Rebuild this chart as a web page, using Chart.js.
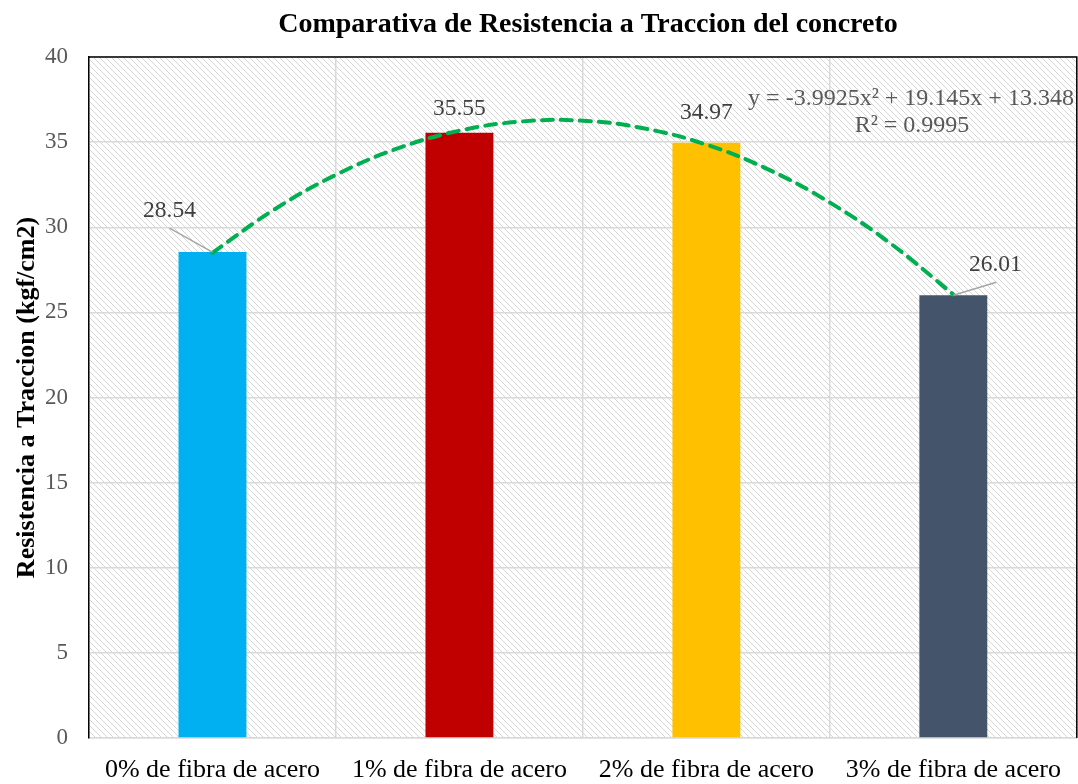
<!DOCTYPE html>
<html lang="es">
<head>
    <meta charset="UTF-8">
    <title>Comparativa de Resistencia a Traccion del concreto</title>
    <script src="https://cdn.jsdelivr.net/npm/chart.js"></script>
    <style>
        body {
            margin: 0;
            padding: 0;
            background: #ffffff;
        }
        #chartBox {
            width: 1078px;
            height: 784px;
        }
    </style>
</head>
<body>
    <div id="chartBox">
        <canvas id="resistChart" width="1078" height="784"></canvas>
    </div>

    <script>
        // Datos del ensayo
        const categorias = [
            "0% de fibra de acero",
            "1% de fibra de acero",
            "2% de fibra de acero",
            "3% de fibra de acero"
        ];
        const resistencia = [28.54, 35.55, 34.97, 26.01];
        const coloresBarra = ["#00B0F0", "#C00000", "#FFC000", "#44546A"];

        // Linea de tendencia polinomica (puntos sobre la curva)
        const tendenciaX = [1, 1.25, 1.5, 1.75, 2, 2.25, 2.5, 2.75, 3, 3.25, 3.5, 3.75, 4];
        const tendenciaY = [28.50, 31.04, 33.08, 34.63, 35.67, 36.21, 36.26, 35.80, 34.85, 33.40, 31.45, 29.00, 26.05];
        const ecuacion = ["y = -3.9925x\u00B2 + 19.145x + 13.348", "R\u00B2 = 0.9995"];

        const ticksY = [0, 5, 10, 15, 20, 25, 30, 35, 40];

        const serif = "'Liberation Serif', 'Times New Roman', serif";

        // fondo rayado del area de trazado
        const makeHatch = (ctx) => {
            const n = 6;
            const c = document.createElement("canvas");
            c.width = n; c.height = n;
            const g = c.getContext("2d");
            g.fillStyle = "#ffffff";
            g.fillRect(0, 0, n, n);
            g.strokeStyle = "#d6d6d6";
            g.lineWidth = 1;
            g.beginPath();
            g.moveTo(-1, -1); g.lineTo(n + 1, n + 1);
            g.moveTo(-1, n - 1); g.lineTo(1, n + 1);
            g.moveTo(n - 1, -1); g.lineTo(n + 1, 1);
            g.stroke();
            return ctx.createPattern(c, "repeat");
        };

        const fondoPlugin = {
            id: "fondo",
            beforeDraw(chart) {
                const { ctx, chartArea: a } = chart;
                ctx.save();
                ctx.fillStyle = "#ffffff";
                ctx.fillRect(0, 0, chart.width, chart.height);
                ctx.fillStyle = makeHatch(ctx);
                ctx.fillRect(a.left, a.top, a.right - a.left, a.bottom - a.top);
                ctx.restore();
            },
            afterDraw(chart) {
                const { ctx, chartArea: a } = chart;
                ctx.save();
                // marco superior y derecho
                ctx.strokeStyle = "#000000";
                ctx.lineWidth = 1.5;
                ctx.beginPath();
                ctx.moveTo(a.left, a.top);
                ctx.lineTo(a.right, a.top);
                ctx.lineTo(a.right, a.bottom);
                ctx.stroke();
                // titulo
                ctx.fillStyle = "#000000";
                ctx.font = "bold 28px " + serif;
                ctx.textAlign = "center";
                ctx.textBaseline = "middle";
                ctx.fillText("Comparativa de Resistencia a Traccion del concreto", 588, 25);
                ctx.restore();
            }
        };

        // posiciones de las etiquetas de valor (desplazamiento respecto a la barra)
        const etiquetaDx = [-43, 0, 0, 42];
        const etiquetaDy = [-41, -24, -30, -30];
        const conGuia = [true, false, false, true];

        const etiquetasPlugin = {
            id: "etiquetas",
            afterDatasetsDraw(chart) {
                const { ctx } = chart;
                const meta = chart.getDatasetMeta(1);
                ctx.save();
                ctx.font = "23.5px " + serif;
                ctx.textAlign = "center";
                ctx.textBaseline = "middle";
                meta.data.forEach((bar, i) => {
                    const tx = bar.x + etiquetaDx[i];
                    const ty = bar.y + etiquetaDy[i];
                    if (conGuia[i]) {
                        ctx.strokeStyle = "#a6a6a6";
                        ctx.lineWidth = 1.5;
                        ctx.beginPath();
                        ctx.moveTo(tx + (i === 0 ? 0 : 1), ty + 17);
                        ctx.lineTo(bar.x, bar.y);
                        ctx.stroke();
                    }
                    ctx.fillStyle = "#404040";
                    ctx.fillText(resistencia[i].toFixed(2), tx, ty);
                });
                // ecuacion de la tendencia
                ctx.font = "24px " + serif;
                ctx.fillStyle = "#595959";
                ctx.fillText(ecuacion[0], 911, 99);
                ctx.fillText(ecuacion[1], 912, 126);
                ctx.restore();
            }
        };

        new Chart(document.getElementById("resistChart"), {
            type: "bar",
            data: {
                labels: categorias,
                datasets: [
                    {
                        type: "line",
                        label: "Tendencia",
                        xAxisID: "xTend",
                        data: tendenciaX.map((x, i) => ({ x: x, y: tendenciaY[i] })),
                        borderColor: "#00B050",
                        borderWidth: 4,
                        borderDash: [11, 8],
                        borderCapStyle: "round",
                        pointRadius: 0,
                        tension: 0.4,
                        fill: false,
                        order: 0
                    },
                    {
                        label: "Resistencia a Traccion",
                        data: resistencia,
                        backgroundColor: coloresBarra,
                        borderWidth: 0,
                        grouped: false,
                        categoryPercentage: 1,
                        barPercentage: 0.275,
                        order: 1
                    }
                ]
            },
            options: {
                responsive: false,
                animation: false,
                layout: {
                    padding: { top: 57, right: 1, left: 0, bottom: 0 }
                },
                plugins: {
                    legend: { display: false },
                    tooltip: { enabled: false },
                    title: { display: false }
                },
                scales: {
                    x: {
                        offset: true,
                        grid: {
                            color: "#d9d9d9",
                            lineWidth: 1.5,
                            drawTicks: false
                        },
                        border: { color: "#d9d9d9", width: 1.5 },
                        ticks: {
                            color: "#000000",
                            font: { family: serif, size: 26 },
                            padding: 17,
                            maxRotation: 0,
                            autoSkip: false
                        },
                        afterFit(scale) { scale.height = 46; }
                    },
                    xTend: {
                        type: "linear",
                        display: false,
                        offset: false,
                        min: 0.5,
                        max: 4.5
                    },
                    y: {
                        min: 0,
                        max: 40,
                        afterBuildTicks(scale) {
                            scale.ticks = ticksY.map(v => ({ value: v }));
                        },
                        grid: {
                            color: "#d9d9d9",
                            lineWidth: 1.5,
                            drawTicks: false
                        },
                        border: { color: "#000000", width: 1.5 },
                        ticks: {
                            color: "#595959",
                            font: { family: serif, size: 23 },
                            padding: 21
                        },
                        title: {
                            display: true,
                            text: "Resistencia a Traccion (kgf/cm2)",
                            color: "#000000",
                            font: { family: serif, size: 26, weight: "bold" },
                            padding: { top: 12, bottom: 0 }
                        },
                        afterFit(scale) { scale.width = 89; }
                    }
                }
            },
            plugins: [fondoPlugin, etiquetasPlugin]
        });
    </script>
</body>
</html>
